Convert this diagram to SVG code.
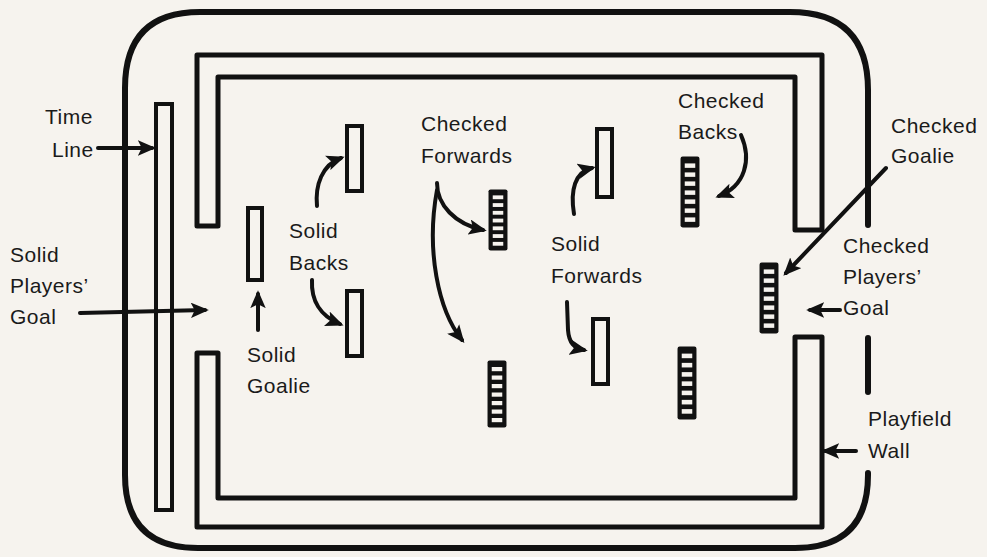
<svg xmlns="http://www.w3.org/2000/svg" width="987" height="557" viewBox="0 0 987 557">
<style>
.bg{fill:#f6f3ee}
.ln{fill:none;stroke:#111;stroke-width:5;stroke-linejoin:round;stroke-linecap:round}
.fr{fill:none;stroke:#111;stroke-width:6;stroke-linecap:round}
.ar{fill:none;stroke:#111;stroke-width:4;stroke-linecap:round}
.solid{fill:#f6f3ee;stroke:#111;stroke-width:4}
.lbl{font-family:"Liberation Sans",Arial,sans-serif;font-size:21px;fill:#1a1a1a;letter-spacing:0.5px}
</style>
<defs>
<marker id="ah" viewBox="0 0 14 12" refX="11" refY="6" markerWidth="4.5" markerHeight="3.9" orient="auto" markerUnits="strokeWidth">
<path d="M0,0 L14,6 L0,12 L3,6 Z" fill="#111"/>
</marker>
<symbol id="chk" viewBox="0 0 19 68" preserveAspectRatio="none">
<rect x="0.5" y="0.5" width="18" height="67" rx="2" fill="#111"/>
<g fill="#f6f3ee">
<rect x="4.5" y="7" width="10" height="4.2"/>
<rect x="4.5" y="15.5" width="10" height="4.2"/>
<rect x="4.5" y="24" width="10" height="4.2"/>
<rect x="4.5" y="32.5" width="10" height="4.2"/>
<rect x="4.5" y="41" width="10" height="4.2"/>
<rect x="4.5" y="49.5" width="10" height="4.2"/>
<rect x="4.5" y="58" width="10" height="4.2"/>
</g>
</symbol>
</defs>
<rect class="bg" x="0" y="0" width="987" height="557"/>

<g id="screen-frame">
<path class="fr" d="M868,473 L868,475 Q868,548 795,548 L198,548 Q125,548 125,475 L125,88 Q125,12 200,12 L790,12 Q868,12 868,90 L868,225"/>
<path class="fr" d="M868,338 L868,392"/>
</g>

<g id="time-line">
<rect x="156" y="104" width="16" height="406" fill="none" stroke="#111" stroke-width="4"/>
</g>

<g id="playfield-wall">
<path class="ln" d="M197,226 L197,55 L822,55 L822,230 L795,230 L795,77 L218,77 L218,226 Z"/>
<path class="ln" d="M197,353 L197,527 L822,527 L822,337 L795,337 L795,498 L218,498 L218,353 Z"/>
</g>

<g id="solid-goalie"><rect class="solid" x="248" y="208" width="14" height="72"/></g>
<g id="solid-back-top"><rect class="solid" x="347" y="126" width="15" height="65"/></g>
<g id="solid-back-bottom"><rect class="solid" x="347" y="291" width="15" height="65"/></g>
<g id="solid-forward-top"><rect class="solid" x="597" y="129" width="15" height="68"/></g>
<g id="solid-forward-bottom"><rect class="solid" x="593" y="319" width="15" height="65"/></g>

<g id="checked-forward-top"><use href="#chk" x="488" y="189" width="20" height="62"/></g>
<g id="checked-forward-bottom"><use href="#chk" x="487" y="360" width="20" height="68"/></g>
<g id="checked-back-top"><use href="#chk" x="680" y="156" width="20" height="72"/></g>
<g id="checked-back-bottom"><use href="#chk" x="677" y="346" width="20" height="74"/></g>
<g id="checked-goalie"><use href="#chk" x="759" y="262" width="20" height="72"/></g>

<g id="connectors">
<path class="ar" d="M98,148 L152,148" marker-end="url(#ah)"/>
<path class="ar" d="M80,313 L205,310" marker-end="url(#ah)"/>
<path class="ar" d="M258,330 L258,294" marker-end="url(#ah)"/>
<path class="ar" d="M317,206 C315,185 322,165 341,158" marker-end="url(#ah)"/>
<path class="ar" d="M312,280 C311,300 320,316 340,324" marker-end="url(#ah)"/>
<path class="ar" d="M437,183 C437,205 455,224 483,230" marker-end="url(#ah)"/>
<path class="ar" d="M437,190 C426,250 438,310 462,340" marker-end="url(#ah)"/>
<path class="ar" d="M574,214 C570,190 575,172 592,168" marker-end="url(#ah)"/>
<path class="ar" d="M567,302 L568,330 C569,343 574,348 584,350" marker-end="url(#ah)"/>
<path class="ar" d="M741,135 C752,160 745,186 719,196" marker-end="url(#ah)"/>
<path class="ar" d="M886,168 L786,273" marker-end="url(#ah)"/>
<path class="ar" d="M840,310 L810,310" marker-end="url(#ah)"/>
<path class="ar" d="M856,451 L825,451" marker-end="url(#ah)"/>
</g>

<g id="labels">
<text class="lbl" x="45" y="124">Time</text>
<text class="lbl" x="52" y="157">Line</text>
<text class="lbl" x="10" y="262">Solid</text>
<text class="lbl" x="10" y="293">Players’</text>
<text class="lbl" x="10" y="324">Goal</text>
<text class="lbl" x="289" y="238">Solid</text>
<text class="lbl" x="289" y="270">Backs</text>
<text class="lbl" x="247" y="362">Solid</text>
<text class="lbl" x="247" y="393">Goalie</text>
<text class="lbl" x="421" y="131">Checked</text>
<text class="lbl" x="421" y="163">Forwards</text>
<text class="lbl" x="551" y="251">Solid</text>
<text class="lbl" x="551" y="283">Forwards</text>
<text class="lbl" x="678" y="108">Checked</text>
<text class="lbl" x="678" y="139">Backs</text>
<text class="lbl" x="891" y="133">Checked</text>
<text class="lbl" x="891" y="163">Goalie</text>
<text class="lbl" x="843" y="253">Checked</text>
<text class="lbl" x="843" y="284">Players’</text>
<text class="lbl" x="843" y="315">Goal</text>
<text class="lbl" x="868" y="426">Playfield</text>
<text class="lbl" x="868" y="458">Wall</text>
</g>
</svg>
